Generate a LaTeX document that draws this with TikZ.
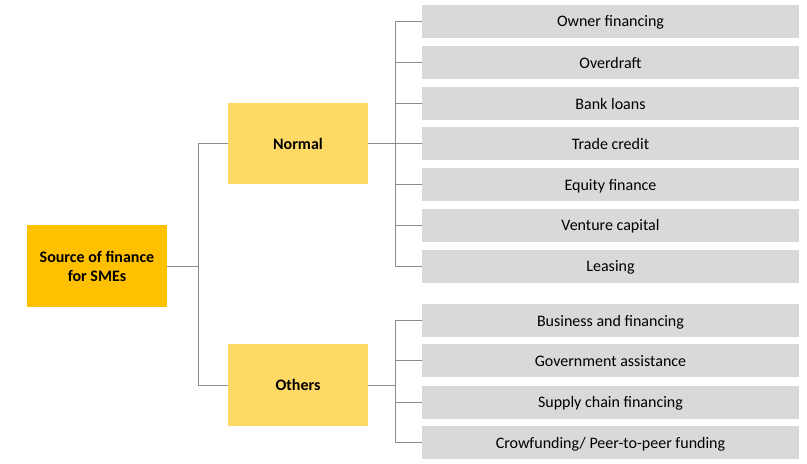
\documentclass[tikz,border=0pt]{standalone}
\usepackage{fontspec}
\setmainfont{Carlito}
\begin{document}
\begin{tikzpicture}[x=0.75pt,y=-0.75pt,
  rootbox/.style={fill=rootfill,minimum width=105pt,minimum height=61.5pt,inner sep=0pt,align=center,font=\fontsize{12}{14.25}\selectfont\bfseries},
  midbox/.style={fill=midfill,minimum width=105pt,minimum height=61pt,inner sep=0pt,text height=8.5pt,text depth=0pt,font=\fontsize{12}{14}\selectfont\bfseries},
  leafbox/.style={fill=leaffill,minimum width=282.75pt,minimum height=24.75pt,inner sep=0pt,text height=8.5pt,text depth=0pt,font=\fontsize{12}{14}\selectfont},
  conn/.style={draw=linegray,line width=0.75pt}]
\definecolor{rootfill}{HTML}{FFC000}
\definecolor{midfill}{HTML}{FFD966}
\definecolor{leaffill}{HTML}{D9D9D9}
\definecolor{linegray}{HTML}{8C8C8C}
\useasboundingbox (0,0) rectangle (807,464);
\node[rootbox] (root) at (97,266) {Source of finance\\for SMEs};
\node[midbox] (normal) at (298,143.5) {Normal};
\node[midbox] (others) at (298,385) {Others};
\foreach \t/\y/\n in {Owner financing/21/n1, Overdraft/62.5/n2, Bank loans/103.5/n3, Trade credit/143.5/n4, Equity finance/184.5/n5, Venture capital/225/n6, Leasing/266/n7}{
  \node[leafbox] (\n) at (610.5,\y) {\t};
}
\foreach \t/\y/\n in {Business and financing/320.5/o1, Government assistance/360.5/o2, Supply chain financing/402/o3, {Crowfunding/ Peer-to-peer funding}/442.5/o4}{
  \node[leafbox] (\n) at (610.5,\y) {\t};
}
\coordinate (rb) at (198,266);
\coordinate (nb) at (395,143.5);
\coordinate (ob) at (395,385);
\draw[conn] (root.east) -- (rb);
\draw[conn] (rb) |- (normal.west);
\draw[conn] (rb) |- (others.west);
\draw[conn] (normal.east) -- (nb);
\foreach \n in {n1,n2,n3,n4,n5,n6,n7}{ \draw[conn] (nb) |- (\n.west); }
\draw[conn] (others.east) -- (ob);
\foreach \n in {o1,o2,o3,o4}{ \draw[conn] (ob) |- (\n.west); }
\end{tikzpicture}
\end{document}
